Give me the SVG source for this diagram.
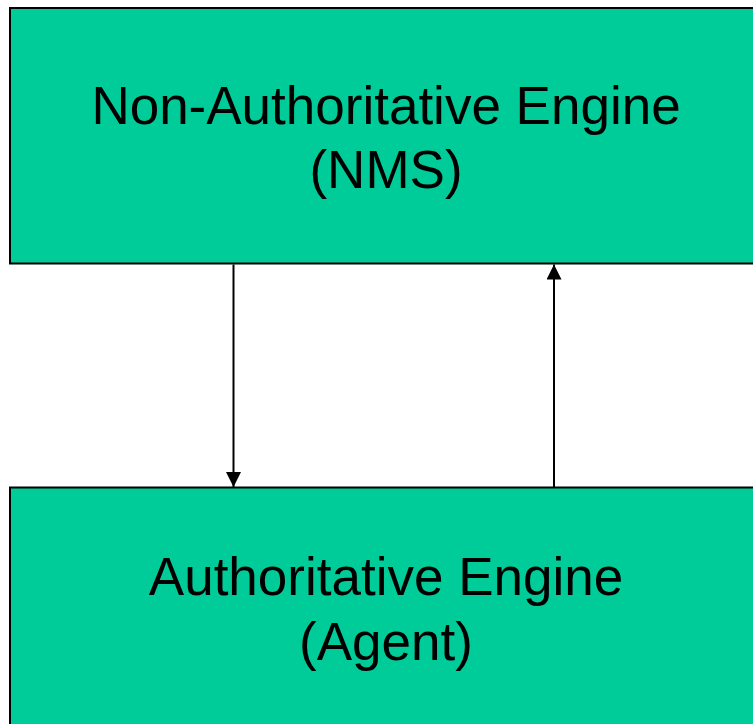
<svg xmlns="http://www.w3.org/2000/svg" width="753" height="724" viewBox="0 0 753 724">
<defs>
<style>
.box{fill:#00CC99;stroke:#000;stroke-width:2}
.lbl{font-family:"Liberation Sans",Arial,sans-serif;font-size:53px;fill:#000;text-anchor:middle}
.conn{stroke:#000;stroke-width:2;fill:none}
</style>
<marker id="ah" markerWidth="15" markerHeight="15" refX="15" refY="7.5" orient="auto" markerUnits="userSpaceOnUse">
<path d="M0,0 L15,7.5 L0,15 Z" fill="#000"/>
</marker>
</defs>
<rect width="753" height="724" fill="#fff"/>
<g id="nms">
<rect class="box" x="10" y="8" width="754" height="255.5"/>
<text class="lbl" x="386" y="124">Non-Authoritative Engine</text>
<text class="lbl" x="386" y="188">(NMS)</text>
</g>
<g id="agent">
<rect class="box" x="10" y="487.5" width="754" height="250"/>
<text class="lbl" x="386" y="595">Authoritative Engine</text>
<text class="lbl" x="386" y="660">(Agent)</text>
</g>
<g id="connectors">
<line class="conn" x1="233.5" y1="264.5" x2="233.5" y2="487" marker-end="url(#ah)"/>
<line class="conn" x1="554" y1="487" x2="554" y2="264.5" marker-end="url(#ah)"/>
</g>
</svg>
